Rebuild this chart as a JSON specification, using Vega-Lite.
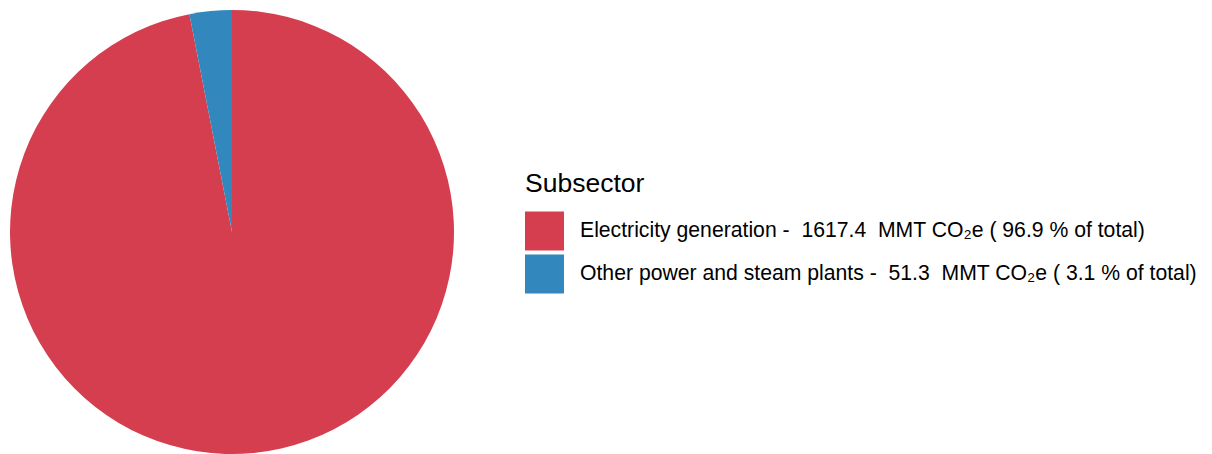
{
  "$schema": "https://vega.github.io/schema/vega-lite/v6.json",
  "width": 464,
  "height": 464,
  "padding": 0,
  "autosize": {"type": "pad"},
  "background": "white",
  "config": {"view": {"stroke": null}, "font": "Liberation Sans"},
  "data": {
    "values": [
      {"subsector": "Electricity generation - \u00a01617.4 \u00a0MMT CO₂e ( 96.9 % of total)", "value": 1617.4, "ord": 1},
      {"subsector": "Other power and steam plants - \u00a051.3 \u00a0MMT CO₂e ( 3.1 % of total)", "value": 51.3, "ord": 2}
    ]
  },
  "mark": {"type": "arc", "outerRadius": 222},
  "encoding": {
    "theta": {"field": "value", "type": "quantitative", "stack": true},
    "order": {"field": "ord", "type": "quantitative"},
    "color": {
      "field": "subsector",
      "type": "nominal",
      "scale": {"range": ["#d53e4f", "#3288bd"]},
      "legend": {
        "title": "Subsector",
        "orient": "none",
        "legendX": 525,
        "legendY": 171,
        "titleFontSize": 26.5,
        "titleFontWeight": "normal",
        "titleColor": "#000",
        "titlePadding": 14,
        "labelFontSize": 21.2,
        "labelColor": "#000",
        "labelOffset": 16,
        "labelLimit": 900,
        "symbolType": "square",
        "symbolSize": 1521,
        "symbolStrokeWidth": 0,
        "symbolOpacity": 1,
        "rowPadding": 4
      }
    }
  }
}
